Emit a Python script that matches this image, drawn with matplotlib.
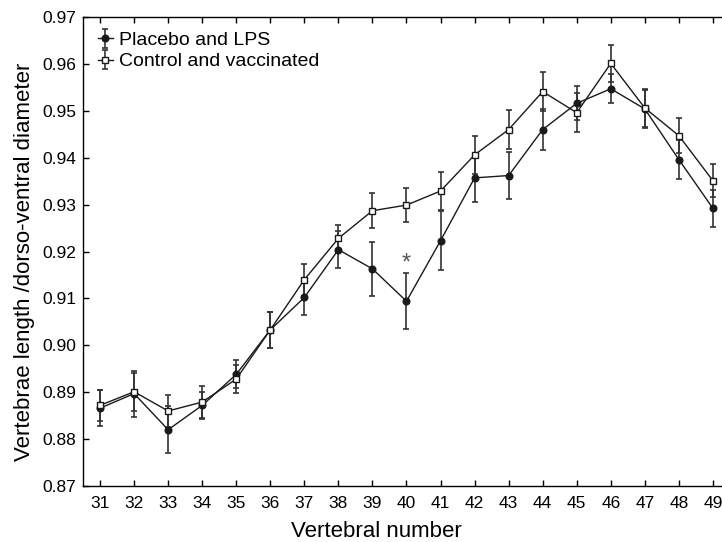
import matplotlib
matplotlib.use("Agg")
import matplotlib.pyplot as plt
import numpy as np

plt.rcParams['font.family'] = ['Liberation Sans', 'DejaVu Sans']

vertebrae = list(range(31, 50))
placebo = [0.8866, 0.8897, 0.8820, 0.8872, 0.8938, 0.9033, 0.9102, 0.9204, 0.9163, 0.9094,
           0.9223, 0.9357, 0.9362, 0.9460, 0.9516, 0.9547, 0.9504, 0.9396, 0.9292]
placebo_err = [0.0038, 0.0049, 0.0050, 0.0029, 0.0030, 0.0038, 0.0038, 0.0039, 0.0058, 0.0060,
               0.0063, 0.0052, 0.0050, 0.0043, 0.0036, 0.0031, 0.0040, 0.0041, 0.0040]
control = [0.8872, 0.8901, 0.8860, 0.8879, 0.8928, 0.9033, 0.9140, 0.9228, 0.9287, 0.9299,
           0.9329, 0.9406, 0.9460, 0.9541, 0.9496, 0.9601, 0.9506, 0.9447, 0.9351]
control_err = [0.0033, 0.0040, 0.0034, 0.0035, 0.0030, 0.0038, 0.0034, 0.0029, 0.0037, 0.0036,
               0.0040, 0.0040, 0.0042, 0.0041, 0.0042, 0.0040, 0.0040, 0.0037, 0.0035]
yticks = [0.87, 0.88, 0.89, 0.90, 0.91, 0.92, 0.93, 0.94, 0.95, 0.96, 0.97]

fig = plt.figure(figsize=(7.22, 5.42), dpi=100)
ax = fig.add_axes([0.115, 0.1033, 0.896, 0.8653])

ax.errorbar(vertebrae, placebo, yerr=placebo_err, fmt='-o', color='#1a1a1a', lw=1.0,
            ecolor='#333333', elinewidth=1.2, capsize=2.5, capthick=1.2,
            markersize=4.8, markerfacecolor='#1a1a1a', markeredgecolor='#1a1a1a',
            label='Placebo and LPS')
ax.errorbar(vertebrae, control, yerr=control_err, fmt='-s', color='#1a1a1a', lw=1.0,
            ecolor='#333333', elinewidth=1.2, capsize=2.5, capthick=1.2,
            markersize=5.0, markerfacecolor='white', markeredgecolor='#1a1a1a',
            label='Control and vaccinated')

ax.text(40, 0.9175, '*', ha='center', va='center', fontsize=17, color='#555555')

ax.set_xlim(30.5, 49.5)
ax.set_ylim(0.87, 0.97)
ax.set_xticks(vertebrae)
ax.set_yticks(yticks)
ax.set_yticklabels([f"{v:.2f}" for v in yticks])
ax.tick_params(direction='in', top=True, right=False, labelsize=12.5, length=4, width=1)
ax.tick_params(axis='x', pad=7)
ax.tick_params(axis='y', pad=5)
for s in ax.spines.values():
    s.set_linewidth(1.0)

ax.set_xlabel('Vertebral number', fontsize=16, labelpad=5)
ax.set_ylabel('Vertebrae length /dorso-ventral diameter', fontsize=16, labelpad=5)
ax.xaxis.set_label_coords(0.453, -0.075)
ax.yaxis.set_label_coords(-0.074, 0.478)

ax.legend(loc='upper left', frameon=False, fontsize=14, handlelength=0.8,
          handletextpad=0.3, borderaxespad=0.55, labelspacing=0.18, borderpad=0.2)

fig.savefig('out.png', dpi=100)
